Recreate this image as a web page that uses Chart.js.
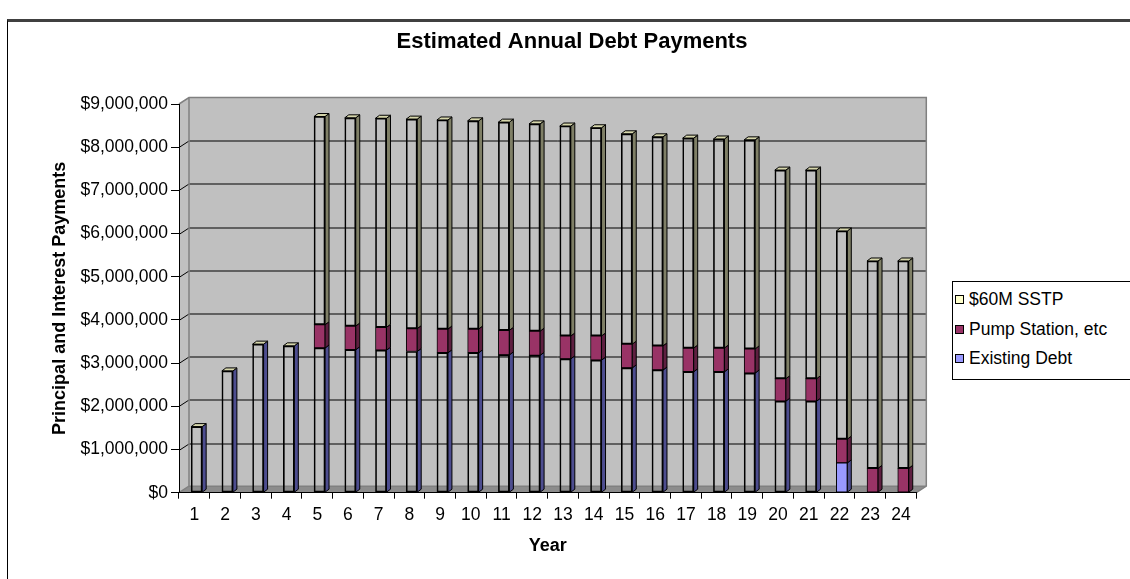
<!DOCTYPE html>
<html>
<head>
<meta charset="utf-8">
<title>Estimated Annual Debt Payments</title>
<script src="https://cdn.jsdelivr.net/npm/chart.js@4"></script>
<style>
  html, body { margin: 0; padding: 0; background: #fff; overflow: hidden; }
  #wrap { position: relative; width: 1130px; height: 579px; }
  #frame { position: absolute; left: 7px; top: 19px; width: 1130px; height: 600px;
           border-top: 3px solid #404040; border-left: 1px solid #000; }
  #c { position: absolute; left: 0; top: 0; }
  #legend { position: absolute; left: 952px; top: 281px; width: 200px; height: 94px;
            border: 1px solid #000; background: #fff; padding-top: 3px;
            font: 17.5px "Liberation Sans", Arial, sans-serif; color: #000; }
  #legend .item { height: 29.5px; line-height: 29.5px; white-space: nowrap; }
  #legend .sw { display: inline-block; width: 7px; height: 7px; border: 1px solid #000;
                margin: 0 5px 0 2px; vertical-align: 1px; }
</style>
</head>
<body>
<div id="wrap">
  <div id="frame"></div>
  <canvas id="c" width="1130" height="579"></canvas>
  <div id="legend"></div>
</div>
<script>
// Annual principal and interest payments by year (dollars)
const years = ['1', '2', '3', '4', '5', '6', '7', '8', '9', '10', '11', '12',
               '13', '14', '15', '16', '17', '18', '19', '20', '21', '22', '23', '24'];

const existingDebt = [1530000, 2820000, 3440000, 3400000, 3350000, 3310000, 3300000, 3270000,
                      3240000, 3240000, 3190000, 3180000, 3100000, 3070000, 2890000, 2840000,
                      2800000, 2800000, 2770000, 2120000, 2120000, 690000, 0, 0];

const pumpStation = [0, 0, 0, 0, 540000, 550000, 530000, 530000, 550000, 550000, 570000, 560000,
                     530000, 560000, 550000, 560000, 550000, 550000, 560000, 520000, 520000,
                     550000, 565000, 565000];

const sstp = [0, 0, 0, 0, 4820000, 4820000, 4840000, 4850000, 4840000, 4820000, 4820000, 4800000,
              4860000, 4820000, 4870000, 4840000, 4860000, 4840000, 4840000, 4830000, 4830000,
              4820000, 4800000, 4800000];

const yTicks = [0, 1000000, 2000000, 3000000, 4000000, 5000000, 6000000, 7000000, 8000000, 9000000];

// front / side / top shades for each series
const colors = {
  existing: { front: '#9999ff', side: '#4d4d8f' },
  pump:     { front: '#993366', side: '#5e1f40' },
  sstp:     { front: '#ffffcc', side: '#7f7f66', top: '#d6d6ab' }
};

const font = '"Liberation Sans", Arial, sans-serif';

// wall depth and bar depth of the pseudo 3D look
const WALL_DX = 10, WALL_DY = -6.5;
const BAR_DX = 4, BAR_DY = -3, BAR_SHIFT = 2.3;

function money(v) {
  return '$' + Number(v).toLocaleString('en-US');
}

// only the last year with old debt shows a filled front face
const existingFill = existingDebt.map((v, i) => i === 21 ? colors.existing.front : 'rgba(0,0,0,0)');

const walls = {
  id: 'walls',
  beforeDraw(chart) {
    const ctx = chart.ctx;
    const a = chart.chartArea;
    const y = chart.scales.y;
    ctx.save();
    // left wall
    ctx.fillStyle = '#c0c0c0';
    ctx.beginPath();
    ctx.moveTo(a.left, a.top);
    ctx.lineTo(a.left + WALL_DX, a.top + WALL_DY);
    ctx.lineTo(a.left + WALL_DX, a.bottom + WALL_DY);
    ctx.lineTo(a.left, a.bottom);
    ctx.closePath();
    ctx.fill();
    // back wall
    ctx.fillRect(a.left + WALL_DX, a.top + WALL_DY, a.right - a.left, a.bottom - a.top);
    // floor
    ctx.fillStyle = '#8c8c8c';
    ctx.beginPath();
    ctx.moveTo(a.left, a.bottom);
    ctx.lineTo(a.left + WALL_DX, a.bottom + WALL_DY);
    ctx.lineTo(a.right + WALL_DX, a.bottom + WALL_DY);
    ctx.lineTo(a.right, a.bottom);
    ctx.closePath();
    ctx.fill();

    // gridlines running across the left and back walls
    ctx.strokeStyle = '#000';
    ctx.lineWidth = 1;
    yTicks.forEach(v => {
      if (v === 0 || v === yTicks[yTicks.length - 1]) return;
      const py = Math.round(y.getPixelForValue(v)) + 0.5;
      ctx.beginPath();
      ctx.moveTo(a.left, py);
      ctx.lineTo(a.left + WALL_DX, py + WALL_DY);
      ctx.lineTo(a.right + WALL_DX, py + WALL_DY);
      ctx.stroke();
    });

    // wall edges
    ctx.strokeStyle = '#808080';
    ctx.lineWidth = 1.5;
    ctx.beginPath();
    ctx.moveTo(a.left, a.top);
    ctx.lineTo(a.left + WALL_DX, a.top + WALL_DY);
    ctx.lineTo(a.right + WALL_DX, a.top + WALL_DY);
    ctx.lineTo(a.right + WALL_DX, a.bottom + WALL_DY);
    ctx.lineTo(a.right, a.bottom);
    ctx.moveTo(a.left + WALL_DX, a.top + WALL_DY);
    ctx.lineTo(a.left + WALL_DX, a.bottom + WALL_DY);
    ctx.lineTo(a.right + WALL_DX, a.bottom + WALL_DY);
    ctx.moveTo(a.left, a.bottom);
    ctx.lineTo(a.left + WALL_DX, a.bottom + WALL_DY);
    ctx.stroke();
    ctx.restore();
  },
  beforeDatasetsDraw(chart) {
    const ctx = chart.ctx;
    const sides = [colors.existing.side, colors.pump.side, colors.sstp.side];
    ctx.save();
    ctx.strokeStyle = '#000';
    ctx.lineWidth = 1;
    ctx.lineJoin = 'round';
    // side faces of every segment
    chart.data.datasets.forEach((ds, di) => {
      chart.getDatasetMeta(di).data.forEach(bar => {
        const p = bar.getProps(['x', 'y', 'base', 'width']);
        if (Math.abs(p.base - p.y) < 0.5) return;
        const xr = p.x + p.width / 2 + BAR_SHIFT;
        ctx.fillStyle = sides[di];
        ctx.beginPath();
        ctx.moveTo(xr, p.y);
        ctx.lineTo(xr + BAR_DX, p.y + BAR_DY);
        ctx.lineTo(xr + BAR_DX, p.base + BAR_DY);
        ctx.lineTo(xr, p.base);
        ctx.closePath();
        ctx.fill();
        ctx.stroke();
      });
    });
    // top face of each stack
    const last = chart.getDatasetMeta(chart.data.datasets.length - 1).data;
    last.forEach(bar => {
      const p = bar.getProps(['x', 'y', 'width']);
      const xl = p.x - p.width / 2 + BAR_SHIFT;
      const xr = p.x + p.width / 2 + BAR_SHIFT;
      ctx.fillStyle = colors.sstp.top;
      ctx.beginPath();
      ctx.moveTo(xl, p.y);
      ctx.lineTo(xl + BAR_DX, p.y + BAR_DY);
      ctx.lineTo(xr + BAR_DX, p.y + BAR_DY);
      ctx.lineTo(xr, p.y);
      ctx.closePath();
      ctx.fill();
      ctx.stroke();
    });
    ctx.restore();
    // front faces are drawn by Chart.js, nudged forward into the depth
    ctx.save();
    ctx.translate(BAR_SHIFT, 0);
  },
  afterDatasetsDraw(chart) {
    chart.ctx.restore();
  },
  afterDraw(chart) {
    const ctx = chart.ctx;
    ctx.save();
    ctx.fillStyle = '#000';
    ctx.font = 'bold 22px ' + font;
    ctx.textAlign = 'center';
    ctx.textBaseline = 'middle';
    ctx.fillText('Estimated Annual Debt Payments', 572, 42);
    ctx.restore();
  }
};

const chart = new Chart(document.getElementById('c'), {
  type: 'bar',
  data: {
    labels: years,
    datasets: [{
      label: 'Existing Debt',
      data: existingDebt,
      backgroundColor: existingFill,
      borderColor: '#000',
      borderWidth: 1,
      borderSkipped: false
    }, {
      label: 'Pump Station, etc',
      data: pumpStation,
      backgroundColor: colors.pump.front,
      borderColor: '#000',
      borderWidth: 1,
      borderSkipped: false
    }, {
      label: '$60M SSTP',
      data: sstp,
      backgroundColor: 'rgba(0,0,0,0)',
      borderColor: '#000',
      borderWidth: 1,
      borderSkipped: false
    }]
  },
  options: {
    responsive: false,
    animation: false,
    barThickness: 11,
    layout: { padding: { left: 0, right: 213.7, top: 104, bottom: 0 } },
    plugins: {
      legend: { display: false },
      title: { display: false },
      tooltip: { enabled: false }
    },
    scales: {
      x: {
        stacked: true,
        grid: { offset: true, drawOnChartArea: false, tickLength: 6, color: '#000' },
        border: { color: '#000' },
        ticks: { color: '#000', padding: 6, font: { family: font, size: 17.5 }, maxRotation: 0 },
        title: { display: true, text: 'Year', color: '#000',
                 font: { family: font, size: 18, weight: 'bold' }, padding: { top: 0, bottom: 22 } },
        afterFit(s) { s.height = 86.3; }
      },
      y: {
        stacked: true,
        min: 0,
        max: 9000000,
        grid: { drawOnChartArea: false, tickLength: 8, color: '#000' },
        border: { color: '#000' },
        ticks: { stepSize: 1000000, color: '#000', padding: 3,
                 font: { family: font, size: 17.5 }, callback: v => money(v) },
        title: { display: true, text: 'Principal and Interest Payments', color: '#000',
                 font: { family: font, size: 18, weight: 'bold' }, padding: { top: 49, bottom: 0 } },
        afterFit(s) { s.width = 179; }
      }
    }
  },
  plugins: [walls]
});

// legend box, top series first
const legend = document.getElementById('legend');
const swatches = [colors.existing.front, colors.pump.front, colors.sstp.front];
chart.data.datasets.map((ds, i) => ({ text: ds.label, fill: swatches[i] })).reverse().forEach(it => {
  const row = document.createElement('div');
  row.className = 'item';
  const sw = document.createElement('span');
  sw.className = 'sw';
  sw.style.background = it.fill;
  row.appendChild(sw);
  row.appendChild(document.createTextNode(it.text));
  legend.appendChild(row);
});
</script>
</body>
</html>
